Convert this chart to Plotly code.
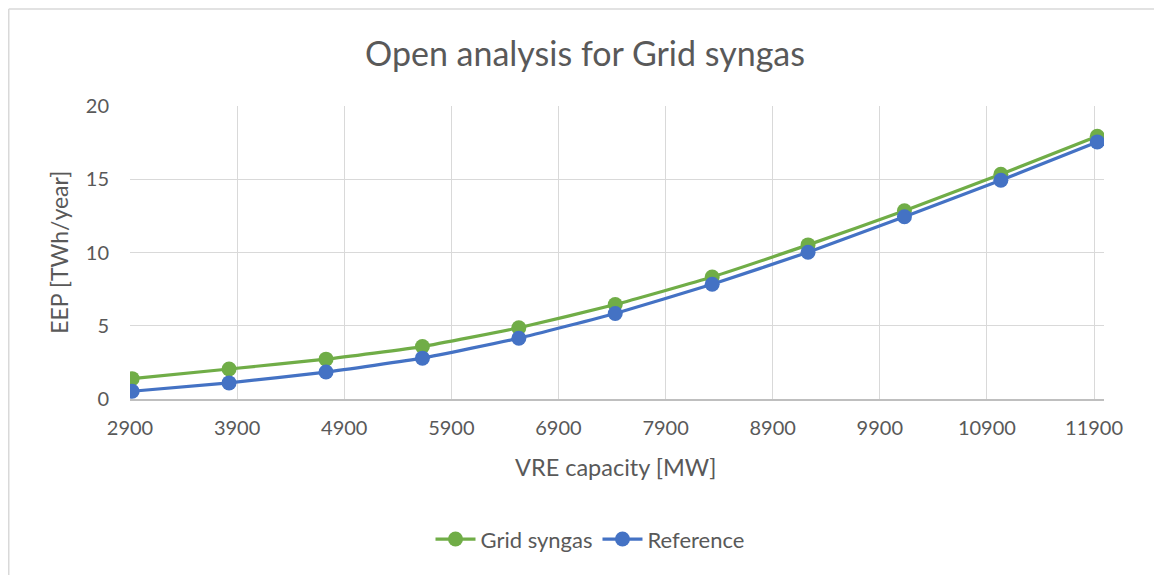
import plotly.graph_objects as go

x_capacity = [2920, 3825, 4730, 5630, 6530, 7430, 8335, 9230, 10130, 11030, 11930]
grid_syngas = [1.39, 2.05, 2.72, 3.58, 4.86, 6.45, 8.33, 10.52, 12.85, 15.34, 17.93]
reference = [0.53, 1.10, 1.84, 2.79, 4.15, 5.84, 7.83, 10.02, 12.44, 14.93, 17.55]
x_ticks = [2900, 3900, 4900, 5900, 6900, 7900, 8900, 9900, 10900, 11900]
x_tick_labels = [str(v) for v in x_ticks]
y_ticks = [0, 5, 10, 15, 20]

FONT = "Lato"
TXT = "#595959"

# page has an 8px body margin; figure sized to fill the rest of the window
W, H = 1154, 567
L, T, B = 122, 98, 175.5
PW = 974.0
PH = H - T - B
R = W - L - PW


def px_x(page_x):
    return (page_x - 130) / PW


def px_y(page_y):
    return (399.5 - page_y) / PH


fig = go.Figure()
fig.add_trace(go.Scatter(x=x_capacity, y=grid_syngas, name="Grid syngas", mode="lines+markers",
                         line=dict(color="#70AD47", width=3.2, shape="spline", smoothing=0.4),
                         marker=dict(color="#70AD47", size=15)))
fig.add_trace(go.Scatter(x=x_capacity, y=reference, name="Reference", mode="lines+markers",
                         line=dict(color="#4472C4", width=3.2, shape="spline", smoothing=0.4),
                         marker=dict(color="#4472C4", size=15)))

edge_x = (0.75 - L) / PW
edge_y = (H - B - 0.75) / PH
fig.update_layout(
    width=W, height=H,
    margin=dict(l=L, r=R, t=T, b=B, pad=0),
    paper_bgcolor="white", plot_bgcolor="white",
    font=dict(family=FONT, color=TXT, size=20),
    showlegend=True,
    legend=dict(orientation="h", x=px_x(590), xanchor="center", y=px_y(540), yanchor="middle",
                font=dict(size=22, color=TXT), traceorder="normal", itemwidth=40),
    annotations=[
        dict(text="Open analysis for Grid syngas", x=px_x(585), xref="paper", y=px_y(52), yref="paper",
             showarrow=False, font=dict(size=34, color=TXT), xanchor="center", yanchor="middle"),
        dict(text="VRE capacity [MW]", x=px_x(615.5), xref="paper", y=px_y(468), yref="paper",
             showarrow=False, font=dict(size=23.5, color=TXT), xanchor="center", yanchor="middle"),
        dict(text="EEP [TWh/year]", x=px_x(59), xref="paper", y=px_y(253), yref="paper",
             showarrow=False, font=dict(size=23, color=TXT), textangle=-90,
             xanchor="center", yanchor="middle"),
    ],
    shapes=[
        dict(type="line", xref="paper", yref="paper", x0=edge_x, x1=1.2, y0=edge_y, y1=edge_y,
             line=dict(color="#d9d9d9", width=1.5)),
        dict(type="line", xref="paper", yref="paper", x0=edge_x, x1=edge_x, y0=edge_y, y1=-0.7,
             line=dict(color="#d9d9d9", width=1.5)),
    ],
)

fig.update_xaxes(range=[2900, 11993], tickvals=x_ticks, ticktext=x_tick_labels,
                 showgrid=True, gridcolor="#d9d9d9", gridwidth=1.2,
                 showline=True, linecolor="#bfbfbf", linewidth=1.5, zeroline=False,
                 ticks="", tickfont=dict(size=20, color=TXT), ticklabelstandoff=10)
fig.update_yaxes(range=[0, 20], tickvals=y_ticks, showgrid=True, gridcolor="#d9d9d9", gridwidth=1.2,
                 showline=False, zeroline=False, ticks="", tickfont=dict(size=20, color=TXT),
                 ticklabelstandoff=20)

fig.write_html("out.html")
